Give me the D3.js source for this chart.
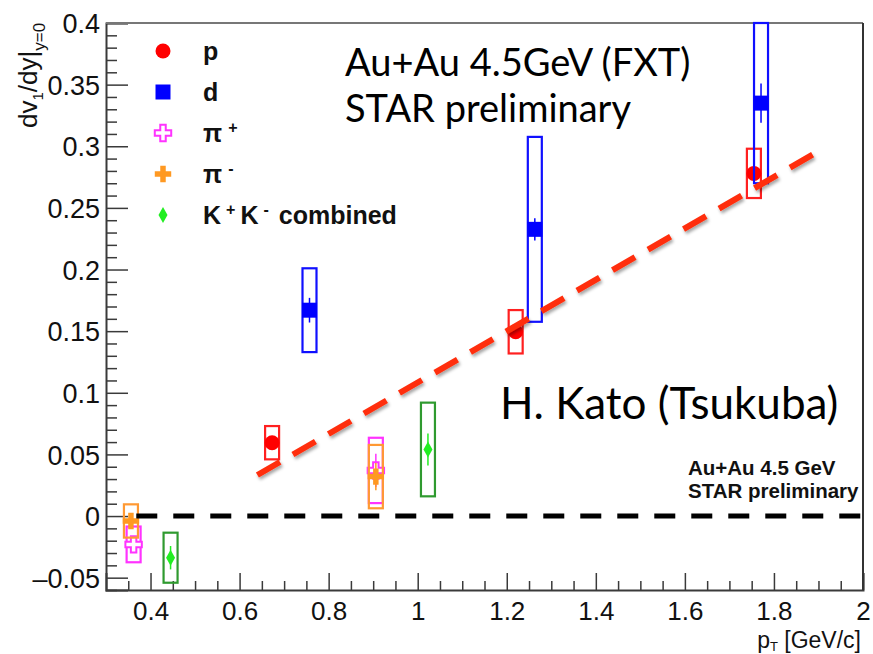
<!DOCTYPE html>
<html>
<head>
<meta charset="utf-8">
<script src="https://cdn.jsdelivr.net/npm/d3@7/dist/d3.min.js"></script>
<style>
  html, body { margin: 0; padding: 0; background: #fff; }
  svg { display: block; }
  .tick text { font-family: "Liberation Sans", Arial, Helvetica, sans-serif; fill: #111; }
</style>
</head>
<body>
<div id="chart"></div>
<script>
// ---- data: dv1/dy at mid-rapidity vs pT, Au+Au 4.5 GeV ----
const protonPt   = [0.673, 1.220, 1.755];
const protonV    = [0.0595, 0.1495, 0.278];
const protonStat = [0.004, 0.005, 0.006];
const protonSys  = [0.0135, 0.0176, 0.020];

const deuteronPt   = [0.757, 1.263, 1.771];
const deuteronV    = [0.167, 0.2326, 0.335];
const deuteronStat = [0.010, 0.009, 0.016];
const deuteronSys  = [0.034, 0.075, 0.065];

const piPlusPt   = [0.362, 0.906];
const piPlusV    = [-0.023, 0.037];
const piPlusStat = [0.006, 0.0135];
const piPlusSys  = [0.0145, 0.0265];

const piMinusPt   = [0.356, 0.906];
const piMinusV    = [-0.004, 0.032];
const piMinusStat = [0.006, 0.011];
const piMinusSys  = [0.0135, 0.0257];

const kaonPt   = [0.445, 1.023];
const kaonV    = [-0.0338, 0.054];
const kaonStat = [0.0095, 0.013];
const kaonSys  = [0.0203, 0.038];

// guide lines: linear trend through protons and the zero reference
const trendPt = [0.64, 1.90];
const trendV  = [0.0333, 0.296];
const zeroPt  = [0.368, 2.0];
const zeroV   = [0, 0];

// axes
const xDomain = [0.3, 2.0];
const yDomain = [-0.06, 0.4];
const xMajorTicks = [0.4, 0.6, 0.8, 1.0, 1.2, 1.4, 1.6, 1.8, 2.0];
const yMajorTicks = [-0.05, 0, 0.05, 0.1, 0.15, 0.2, 0.25, 0.3, 0.35, 0.4];

const legendLabels = ["p", "d", "π+", "π-", "K+K-combined"];

// ---- layout ----
const W = 873, H = 654;
const margin = { top: 23, right: 10, bottom: 64, left: 106 };
const plotW = W - margin.left - margin.right;
const plotH = H - margin.top - margin.bottom;

const x = d3.scaleLinear().domain(xDomain).range([margin.left, margin.left + plotW]);
const y = d3.scaleLinear().domain(yDomain).range([margin.top + plotH, margin.top]);

const svg = d3.select("#chart").append("svg")
  .attr("width", W).attr("height", H);

const defs = svg.append("defs");
const shadow = defs.append("filter").attr("id", "lineShadow")
  .attr("x", "-10%").attr("y", "-10%").attr("width", "120%").attr("height", "130%");
shadow.append("feDropShadow").attr("dx", 1.5).attr("dy", 2.5)
  .attr("stdDeviation", 1.5).attr("flood-color", "#000").attr("flood-opacity", 0.35);

// ---- axes ----
const xMinor = d3.range(0.35, 2.0001, 0.05).filter(v => !xMajorTicks.some(m => Math.abs(m - v) < 1e-6));
const yMinor = d3.range(-0.06, 0.4001, 0.01).filter(v => !yMajorTicks.some(m => Math.abs(m - v) < 1e-6));

const fmt = v => {
  if (Math.abs(v) < 1e-9) return "0";
  const s = String(+v.toFixed(3));
  return v < 0 ? "\u2013" + s.slice(1) : s;
};

const axisColor = "#3a3a3a";

const gx = svg.append("g").attr("transform", `translate(0,${margin.top + plotH})`);
gx.call(d3.axisBottom(x).tickValues(xMinor).tickSize(-9).tickFormat(""));
gx.call(g => g.selectAll(".tick line").attr("stroke", axisColor).attr("stroke-width", 1.5));
const gxMaj = svg.append("g").attr("transform", `translate(0,${margin.top + plotH})`);
gxMaj.call(d3.axisBottom(x).tickValues(xMajorTicks).tickSize(-17).tickFormat(fmt));
gxMaj.selectAll(".tick line").attr("stroke", axisColor).attr("stroke-width", 1.5);
gxMaj.selectAll(".tick text").attr("y", 30).attr("dy", 0).attr("font-size", 26);
gx.select(".domain").remove();
gxMaj.select(".domain").attr("stroke", axisColor).attr("stroke-width", 2);

const gy = svg.append("g").attr("transform", `translate(${margin.left},0)`);
gy.call(d3.axisLeft(y).tickValues(yMinor).tickSize(-11).tickFormat(""));
gy.selectAll(".tick line").attr("stroke", axisColor).attr("stroke-width", 1.5);
gy.select(".domain").remove();
const gyMaj = svg.append("g").attr("transform", `translate(${margin.left},0)`);
gyMaj.call(d3.axisLeft(y).tickValues(yMajorTicks).tickSize(-22).tickFormat(fmt));
gyMaj.selectAll(".tick line").attr("stroke", axisColor).attr("stroke-width", 1.5);
gyMaj.selectAll(".tick text").attr("x", -6).attr("dy", "0.36em").attr("font-size", 27);
gyMaj.select(".domain").attr("stroke", axisColor).attr("stroke-width", 2);

// frame top and right
svg.append("line")
  .attr("x1", x(xDomain[0])).attr("x2", x(xDomain[1]))
  .attr("y1", y(yDomain[1])).attr("y2", y(yDomain[1]))
  .attr("stroke", "#777").attr("stroke-width", 2);
svg.append("line")
  .attr("x1", x(xDomain[1])).attr("x2", x(xDomain[1]))
  .attr("y1", y(yDomain[1])).attr("y2", y(yDomain[0]))
  .attr("stroke", "#333").attr("stroke-width", 2);

// axis titles
const fontAxis = '"Liberation Sans", Arial, Helvetica, sans-serif';
const xTitle = svg.append("text")
  .attr("x", 861).attr("y", 648).attr("text-anchor", "end")
  .attr("font-family", fontAxis).attr("font-size", 23).attr("fill", "#111");
xTitle.append("tspan").text("p");
xTitle.append("tspan").attr("font-size", 13).attr("dy", 3).text("T");
xTitle.append("tspan").attr("dy", -3).text(" [GeV/c]");

const yTitle = svg.append("text")
  .attr("transform", "translate(37,128) rotate(-90)")
  .attr("font-family", fontAxis).attr("font-size", 26).attr("fill", "#111");
yTitle.append("tspan").text("dv");
yTitle.append("tspan").attr("font-size", 15).attr("dy", 6).text("1");
yTitle.append("tspan").attr("dy", -6).text("/dy|");
yTitle.append("tspan").attr("font-size", 17).attr("dy", 8).text("y=0");

// ---- series ----
const boxHalf = 7; // px, half width of systematic boxes

const series = [
  { pt: protonPt, v: protonV, stat: protonStat, sys: protonSys,
    marker: "circle", fill: "#ff0000", stroke: "#ff0000", box: "#ff2020" },
  { pt: deuteronPt, v: deuteronV, stat: deuteronStat, sys: deuteronSys,
    marker: "square", fill: "#0000ff", stroke: "#0000ff", box: "#1010ff" },
  { pt: piPlusPt, v: piPlusV, stat: piPlusStat, sys: piPlusSys,
    marker: "openCross", fill: "#ffffff", stroke: "#ff33ff", box: "#ff33ff" },
  { pt: piMinusPt, v: piMinusV, stat: piMinusStat, sys: piMinusSys,
    marker: "cross", fill: "#ff9922", stroke: "#ff9922", box: "#ff9933" },
  { pt: kaonPt, v: kaonV, stat: kaonStat, sys: kaonSys,
    marker: "diamond", fill: "#22ee22", stroke: "#22ee22", box: "#2f9a2f" }
];

function markerPath(kind) {
  switch (kind) {
    case "circle": return d3.symbol(d3.symbolCircle, Math.PI * 7.5 * 7.5)();
    case "square": return d3.symbol(d3.symbolSquare, 15 * 15)();
    case "cross":
    case "openCross": return d3.symbol(d3.symbolCross, 150)();
    case "diamond": return "M0,-8L4.5,0L0,8L-4.5,0Z";
  }
}

const dataLayer = svg.append("g");
series.forEach(s => {
  const pts = s.pt.map((p, i) => ({ p, v: s.v[i], stat: s.stat[i], sys: s.sys[i] }));
  const g = dataLayer.append("g");
  // systematic boxes
  g.selectAll("rect.sys").data(pts).join("rect").attr("class", "sys")
    .attr("x", d => x(d.p) - boxHalf)
    .attr("width", boxHalf * 2)
    .attr("y", d => y(d.v + d.sys))
    .attr("height", d => y(d.v - d.sys) - y(d.v + d.sys))
    .attr("fill", "none").attr("stroke", s.box).attr("stroke-width", 2.2);
  // statistical bars
  g.selectAll("line.stat").data(pts).join("line").attr("class", "stat")
    .attr("x1", d => x(d.p)).attr("x2", d => x(d.p))
    .attr("y1", d => y(d.v + d.stat)).attr("y2", d => y(d.v - d.stat))
    .attr("stroke", s.stroke).attr("stroke-width", 1.5);
  // markers
  g.selectAll("path.mk").data(pts).join("path").attr("class", "mk")
    .attr("d", markerPath(s.marker))
    .attr("transform", d => `translate(${x(d.p)},${y(d.v)})`)
    .attr("fill", s.fill)
    .attr("stroke", s.marker === "openCross" ? s.stroke : "none")
    .attr("stroke-width", 2);
});

// ---- guide lines ----
const line = d3.line().x(d => x(d[0])).y(d => y(d[1]));
svg.append("path")
  .attr("d", line(zeroPt.map((p, i) => [p, zeroV[i]])))
  .attr("stroke", "#000").attr("stroke-width", 5)
  .attr("stroke-dasharray", "21 16").attr("fill", "none");
svg.append("path")
  .attr("d", line(trendPt.map((p, i) => [p, trendV[i]])))
  .attr("stroke", "#ff2d0a").attr("stroke-width", 6)
  .attr("stroke-dasharray", "26 15").attr("fill", "none")
  .attr("filter", "url(#lineShadow)");

// ---- legend ----
const legend = svg.append("g").attr("font-family", fontAxis)
  .attr("font-weight", "bold").attr("font-size", 25).attr("fill", "#111");
const legendY0 = 51, legendStep = 41;
series.forEach((s, i) => {
  const cy = legendY0 + i * legendStep;
  legend.append("path").attr("d", markerPath(s.marker))
    .attr("transform", `translate(163,${cy})`)
    .attr("fill", s.fill)
    .attr("stroke", s.marker === "openCross" ? s.stroke : "none")
    .attr("stroke-width", 2);
  const t = legend.append("text").attr("x", 203).attr("y", cy + 9);
  const lab = legendLabels[i];
  if (lab === "π+" || lab === "π-") {
    t.append("tspan").text("π");
    t.append("tspan").attr("font-size", 16).attr("dy", -9).attr("dx", 6).text(lab[1]);
  } else if (lab.startsWith("K+K-")) {
    t.append("tspan").text("K");
    t.append("tspan").attr("font-size", 16).attr("dy", -9).attr("dx", 5).text("+");
    t.append("tspan").attr("dy", 9).attr("dx", 5).text("K");
    t.append("tspan").attr("font-size", 16).attr("dy", -9).attr("dx", 5).text("-");
    t.append("tspan").attr("dy", 9).attr("dx", 10).text(lab.slice(4));
  } else {
    t.text(lab);
  }
});

// ---- annotations ----
const noteFont = 'Lato, "Open Sans", sans-serif';
svg.append("text").attr("x", 345).attr("y", 76)
  .attr("font-family", noteFont).attr("font-size", 38).attr("fill", "#000")
  .text("Au+Au 4.5GeV (FXT)");
svg.append("text").attr("x", 345).attr("y", 122)
  .attr("font-family", noteFont).attr("font-size", 38).attr("fill", "#000")
  .text("STAR preliminary");
svg.append("text").attr("x", 500).attr("y", 419)
  .attr("font-family", noteFont).attr("font-size", 44).attr("fill", "#000")
  .text("H. Kato (Tsukuba)");

const small = svg.append("g").attr("font-family", fontAxis)
  .attr("font-weight", "bold").attr("font-size", 20.5).attr("fill", "#111");
small.append("text").attr("x", 688).attr("y", 475).text("Au+Au 4.5 GeV");
small.append("text").attr("x", 688).attr("y", 498).text("STAR preliminary");
</script>
</body>
</html>
